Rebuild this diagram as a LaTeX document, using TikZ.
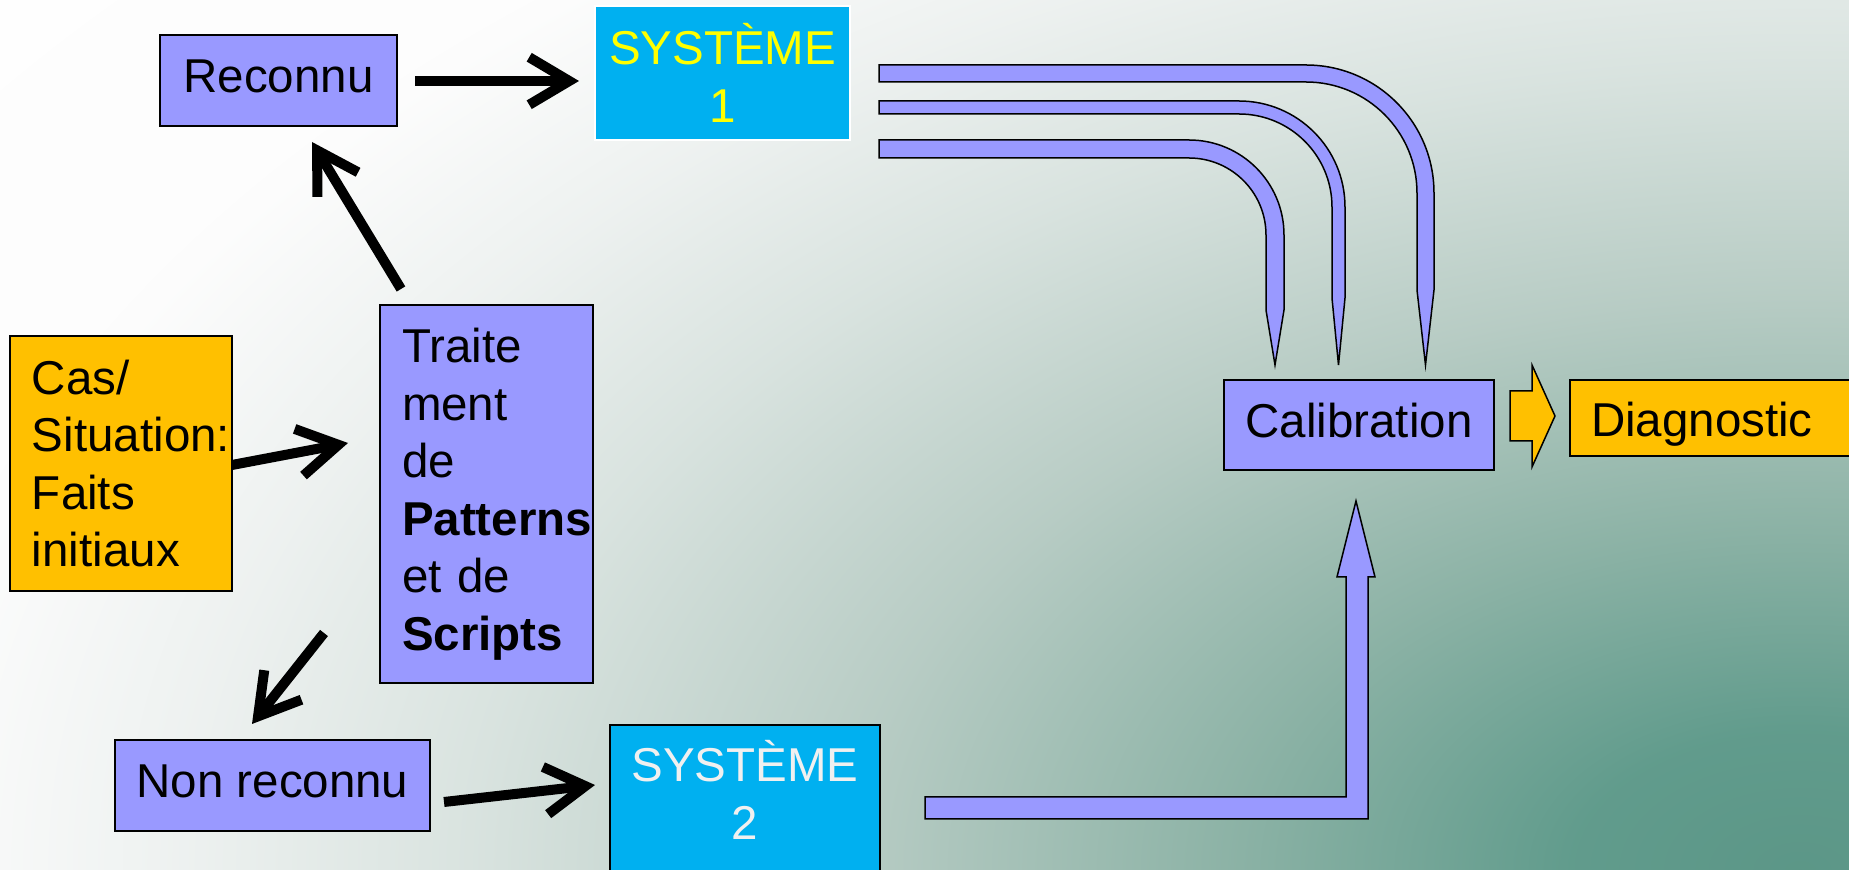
\documentclass[tikz,border=0pt]{standalone}
\usepackage{fontspec}
\setmainfont{Liberation Sans}
\usetikzlibrary{arrows.meta}
\definecolor{boxblue}{HTML}{9999FF}
\definecolor{boxorange}{HTML}{FFC000}
\definecolor{syscyan}{HTML}{00B0F0}
\definecolor{sysyellow}{HTML}{FFFF00}
\pgfdeclareradialshading{bgshade}{\pgfpoint{0bp}{0bp}}{rgb(0bp)=(0.36,0.59,0.53); rgb(3bp)=(0.38,0.61,0.55); rgb(7.5bp)=(0.55,0.70,0.65); rgb(12.5bp)=(0.72,0.80,0.77); rgb(17.5bp)=(0.85,0.89,0.875); rgb(21.25bp)=(0.93,0.945,0.94); rgb(25bp)=(0.99,0.99,0.99); rgb(35bp)=(1,1,1)}
\begin{document}
\begin{tikzpicture}[x=0.4pt,y=-0.4pt,
  font=\fontsize{19pt}{23pt}\selectfont,
  box/.style={draw=black, line width=0.6pt, fill=boxblue, inner sep=0pt},
  orangebox/.style={draw=black, line width=0.6pt, fill=boxorange, inner sep=0pt},
  sysbox/.style={fill=syscyan, line width=0.6pt, inner sep=0pt},
  oneline/.style={text height=13.6pt, text depth=3.6pt},
  blk/.style={line width=4pt, -{Straight Barb[length=16pt,width=19pt]}},
  band/.style={fill=boxblue, draw=black, line width=0.6pt, line join=miter},
  oband/.style={fill=boxorange, draw=black, line width=0.6pt, line join=miter}]
\path[use as bounding box, clip] (0,0) rectangle (1849,870);
\shade[shading=bgshade] (-100,-280) rectangle (3700,2020);

% nodes
\node[box, oneline, minimum width=94.8pt, minimum height=36.4pt] (reconnu) at (278.5,80.5) {Reconnu};
\node[sysbox, draw=white, line width=0.5pt, minimum width=102pt, minimum height=53.6pt, text=sysyellow, align=center] (sys1) at (722.5,73) {SYSTÈME\\1};
\node[orangebox, minimum width=88.8pt, minimum height=102pt, text width=71.2pt, inner xsep=8.8pt, align=left] (cas) at (121,463.5) {Cas/\\\mbox{Situation:}\\Faits\\initiaux};
\node[box, minimum width=85.2pt, minimum height=151.2pt, text width=67.6pt, inner xsep=8.8pt, align=left] (trait) at (486.5,494) {Traite\\ment\\de\\\mbox{\textbf{Patterns}}\\et de\\\mbox{\textbf{Scripts}}};
\node[box, oneline, minimum width=126pt, minimum height=36.4pt] (nonrec) at (272.5,785.5) {Non reconnu};
\node[sysbox, draw=black, minimum width=108pt, minimum height=68pt,
  label={[align=center, text=white!94!black, yshift=8pt]center:SYSTÈME\\2}] (sys2) at (745,810) {};
\node[box, oneline, minimum width=108pt, minimum height=36pt] (calib) at (1359,425) {Calibration};
\node[orangebox, minimum width=132pt, minimum height=30.4pt, text width=115.2pt, inner xsep=8.4pt, align=left, text height=15pt, text depth=0pt] (diag) at (1735,418) {Diagnostic};

% black arrows
\coordinate (a1s) at (415,81);  \coordinate (a1e) at (579,81);
\coordinate (a2s) at (401,289); \coordinate (a2e) at (312,142);
\coordinate (a3s) at (232,465); \coordinate (a3e) at (348,443);
\coordinate (a4s) at (324,633); \coordinate (a4e) at (252,724);
\coordinate (a5s) at (444,802); \coordinate (a5e) at (595,785);
\draw[blk] (a1s) -- (a1e);
\draw[blk] (a2s) -- (a2e);
\draw[blk] (a3s) -- (a3e);
\draw[blk] (a4s) -- (a4e);
\draw[blk] (a5s) -- (a5e);

% curved bands from SYSTEME 1 to Calibration
\draw[band] (879,65) -- (1306,65) arc[start angle=-90, end angle=0, radius=128]
  -- (1434,290) -- (1425.5,365) -- (1417,290) -- (1417,193)
  arc[start angle=0, end angle=-90, radius=111] -- (879,82) -- cycle;
\draw[band] (879,101) -- (1239,101) arc[start angle=-90, end angle=0, radius=106]
  -- (1345,298) -- (1338.5,365) -- (1332,298) -- (1332,207)
  arc[start angle=0, end angle=-90, radius=93] -- (879,114) -- cycle;
\draw[band] (879,140) -- (1189,140) arc[start angle=-90, end angle=0, radius=95]
  -- (1284,310) -- (1275,365) -- (1266,310) -- (1266,235)
  arc[start angle=0, end angle=-90, radius=77] -- (879,158) -- cycle;

% L band from SYSTEME 2 to Calibration
\draw[band] (925,797) -- (1346,797) -- (1346,577) -- (1337,577) -- (1356,501)
  -- (1375,577) -- (1368,577) -- (1368,819) -- (925,819) -- cycle;

% block arrow Calibration -> Diagnostic
\draw[oband] (1510,391) -- (1532,391) -- (1532,365) -- (1555,416) -- (1532,467)
  -- (1532,441) -- (1510,441) -- cycle;
\end{tikzpicture}
\end{document}
